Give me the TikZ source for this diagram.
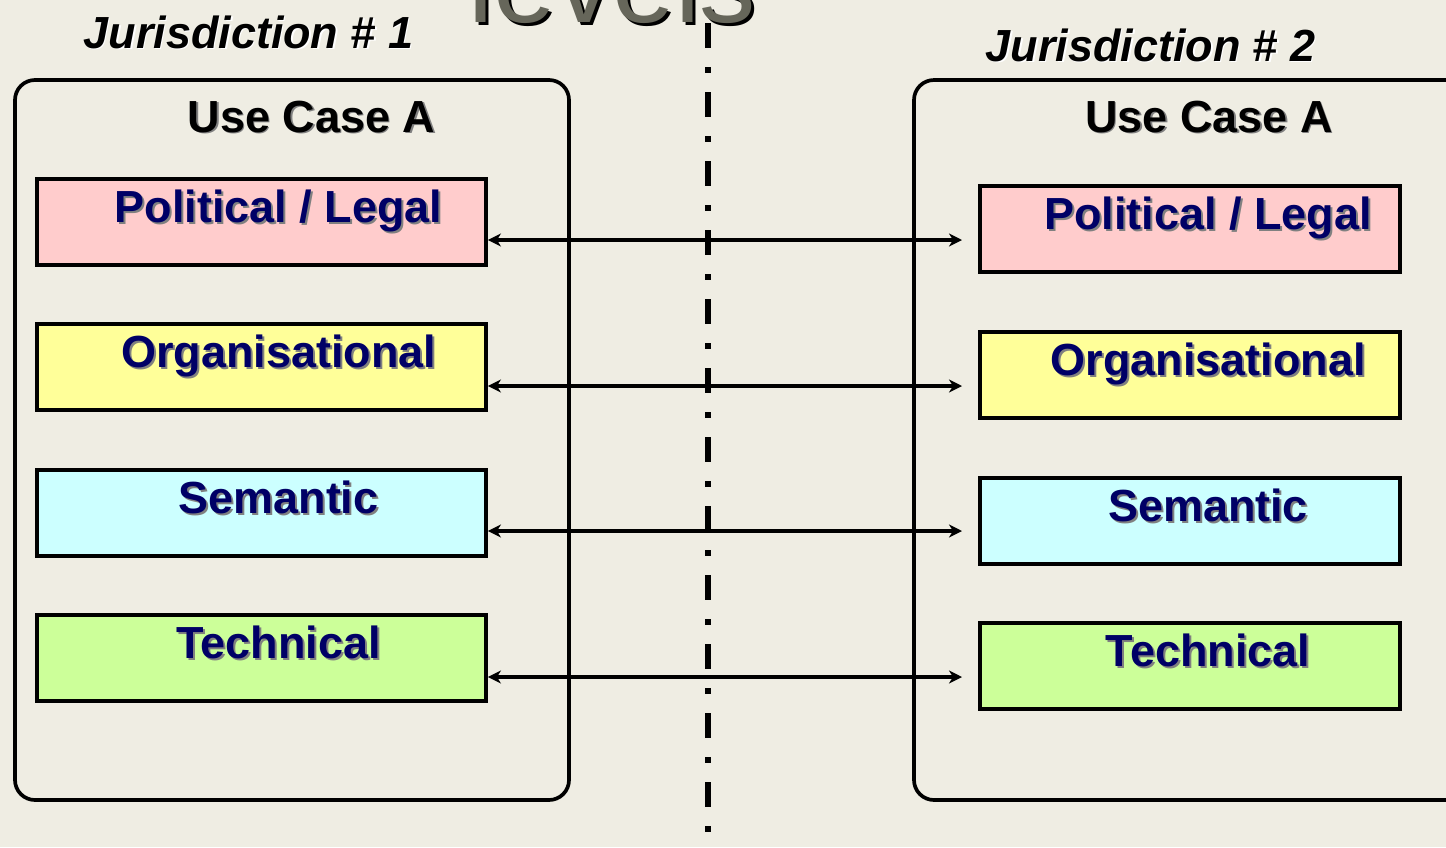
\documentclass[tikz,border=0pt]{standalone}
\usepackage{fontspec}
\setmainfont{Liberation Sans}
\usetikzlibrary{arrows.meta}

\definecolor{bg}{RGB}{239,237,227}
\definecolor{plpink}{RGB}{255,204,204}
\definecolor{orgyellow}{RGB}{255,255,153}
\definecolor{semcyan}{RGB}{204,255,255}
\definecolor{tecgreen}{RGB}{204,255,153}
\definecolor{navy}{RGB}{0,0,102}
\definecolor{lvlgray}{RGB}{102,102,90}

% text with a shadow copy behind it
\newcommand{\shadowed}[3][0.04cm]{\makebox[0pt][l]{\hspace{#1}\raisebox{-#1}{\color{#2}#3}}#3}

\begin{document}
\begin{tikzpicture}[
  layer/.style={draw=black, line width=2.2pt, inner sep=0pt, minimum height=1.72cm},
  layertext/.style={anchor=base, inner sep=0pt, text=navy, font=\fontsize{25.6}{30}\selectfont\bfseries},
  title/.style={anchor=base, inner sep=0pt, font=\fontsize{25.6}{30}\selectfont\bfseries},
  panel/.style={line width=2.1pt, rounded corners=0.4cm},
  link/.style={line width=2pt, {Stealth[length=0.26cm, width=0.26cm, inset=0.08cm]}-{Stealth[length=0.26cm, width=0.26cm, inset=0.08cm]}}
]

\clip (0,0) rectangle (28.92,-16.94);
\fill [bg] (0,0) rectangle (28.92,-16.94);

\node [anchor=base, inner sep=0pt, text=lvlgray, font=\fontsize{64}{70}\selectfont] (lvl) at (12.25,-0.44) {\shadowed[0.06cm]{black}{levels}};

\draw [line width=0.12cm, dash pattern=on 0.5cm off 0.38cm on 0.12cm off 0.38cm] (14.16,-0.46) -- (14.16,-16.94);

\begin{scope}[panel]
\draw (0.30,-1.60) rectangle (11.38,-16.00);
\draw (18.28,-1.60) rectangle (30,-16.00);
\end{scope}

\node [title, font=\fontsize{25.6}{30}\selectfont\bfseries\itshape] (jur1) at (4.97,-0.96) {\shadowed[0.03cm]{white}{Jurisdiction \# 1}};
\node [title, font=\fontsize{25.6}{30}\selectfont\bfseries\itshape] (jur2) at (23.01,-1.22) {\shadowed[0.03cm]{white}{Jurisdiction \# 2}};
\node [title] (uc1) at (6.23,-2.64) {\shadowed[0.03cm]{gray}{Use Case A}};
\node [title] (uc2) at (24.18,-2.64) {\shadowed[0.03cm]{gray}{Use Case A}};

% jurisdiction 1
\begin{scope}[every node/.style={layer, minimum width=8.98cm}]
\node [fill=plpink] (pl1) at (5.23,-4.44) {};
\node [fill=orgyellow] (org1) at (5.23,-7.34) {};
\node [fill=semcyan] (sem1) at (5.23,-10.26) {};
\node [fill=tecgreen] (tec1) at (5.23,-13.16) {};
\end{scope}

% jurisdiction 2
\begin{scope}[every node/.style={layer, minimum width=8.40cm}]
\node [fill=plpink] (pl2) at (23.80,-4.58) {};
\node [fill=orgyellow] (org2) at (23.80,-7.50) {};
\node [fill=semcyan] (sem2) at (23.80,-10.42) {};
\node [fill=tecgreen] (tec2) at (23.80,-13.32) {};
\end{scope}

\node [layertext] (pl1t) at ([xshift=0.34cm]pl1.center) {\shadowed{gray}{Political / Legal}};
\node [layertext] (org1t) at ([xshift=0.34cm]org1.center) {\shadowed{gray}{Organisational}};
\node [layertext] (sem1t) at ([xshift=0.34cm]sem1.center) {\shadowed{gray}{Semantic}};
\node [layertext] (tec1t) at ([xshift=0.34cm]tec1.center) {\shadowed{gray}{Technical}};
\node [layertext] (pl2t) at ([xshift=0.36cm]pl2.center) {\shadowed{gray}{Political / Legal}};
\node [layertext] (org2t) at ([xshift=0.36cm]org2.center) {\shadowed{gray}{Organisational}};
\node [layertext] (sem2t) at ([xshift=0.36cm]sem2.center) {\shadowed{gray}{Semantic}};
\node [layertext] (tec2t) at ([xshift=0.36cm]tec2.center) {\shadowed{gray}{Technical}};

\coordinate (a1) at (19.24,-4.80);
\coordinate (a2) at (19.24,-7.72);
\coordinate (a3) at (19.24,-10.62);
\coordinate (a4) at (19.24,-13.54);

\begin{scope}[link]
\draw (pl1.east |- a1) -- (a1); %pl1-pl2
\draw (org1.east |- a2) -- (a2); %org1-org2
\draw (sem1.east |- a3) -- (a3); %sem1-sem2
\draw (tec1.east |- a4) -- (a4); %tec1-tec2
\end{scope}

\end{tikzpicture}
\end{document}
